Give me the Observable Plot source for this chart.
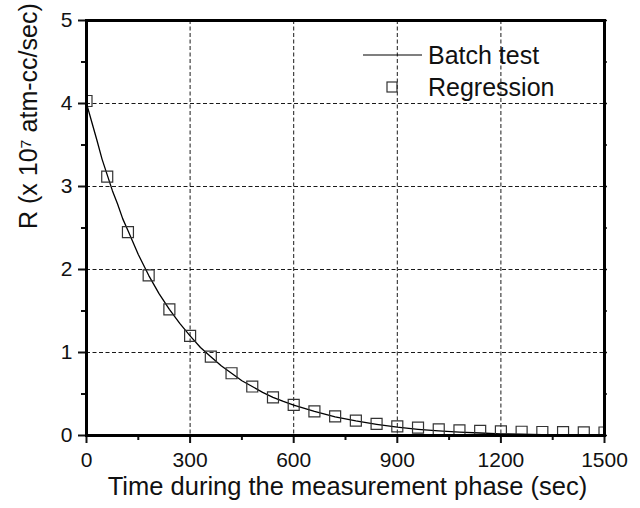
<!DOCTYPE html>
<html>
<head>
<meta charset="utf-8">
<script src="https://cdn.jsdelivr.net/npm/d3@7"></script>
<script src="https://cdn.jsdelivr.net/npm/@observablehq/plot@0.6"></script>
<style>
  html, body { margin: 0; padding: 0; background: #fff; }
  #chart svg { display: block; }
</style>
</head>
<body>
<div id="chart"></div>
<script>
// ---- data ----
const batchTime = [0, 15, 30, 45, 60, 75, 90, 105, 120, 150, 180, 210, 240, 270, 300, 330, 360, 390, 420, 450, 480, 510, 540, 570, 600, 660, 720, 780, 840, 900, 960, 1020, 1080, 1140, 1200, 1260, 1320, 1380, 1440, 1500];
const batchR    = [4.00, 3.78, 3.56, 3.33, 3.14, 2.95, 2.79, 2.61, 2.47, 2.18, 1.93, 1.71, 1.52, 1.35, 1.20, 1.06, 0.95, 0.84, 0.75, 0.66, 0.59, 0.52, 0.46, 0.41, 0.365, 0.29, 0.225, 0.175, 0.135, 0.10, 0.075, 0.055, 0.04, 0.03, 0.02, 0.015, 0.01, 0.008, 0.005, 0.004];

const regTime = [0, 60, 120, 180, 240, 300, 360, 420, 480, 540, 600, 660, 720, 780, 840, 900, 960, 1020, 1080, 1140, 1200, 1260, 1320, 1380, 1440, 1500];
const regR    = [4.03, 3.12, 2.45, 1.93, 1.52, 1.20, 0.95, 0.75, 0.59, 0.46, 0.37, 0.29, 0.23, 0.18, 0.14, 0.11, 0.095, 0.075, 0.062, 0.055, 0.05, 0.045, 0.042, 0.04, 0.038, 0.036];

const xTicks = [0, 300, 600, 900, 1200, 1500];
const xMinor = [150, 450, 750, 1050, 1350];
const yTicks = [0, 1, 2, 3, 4, 5];
const yMinor = [0.5, 1.5, 2.5, 3.5, 4.5];

const xTitle = "Time during the measurement phase (sec)";
const yTitle = "R (x 10\u2077 atm-cc/sec)";
const legendLabels = ["Batch test", "Regression"];

// ---- tables ----
const batch = batchTime.map((t, i) => ({t, r: batchR[i]}));
const regression = regTime.map((t, i) => ({t, r: regR[i]}));

const FONT = "'Liberation Sans', Arial, Helvetica, sans-serif";
const fmt = d => String(d);

// legend drawn inside the frame (top-right)
function legendMark(index, scales, values, dim) {
  const g = d3.create("svg:g").attr("font-family", FONT).attr("font-size", 25).attr("text-anchor", "start");
  const right = dim.width - dim.marginRight;
  const top = dim.marginTop;
  const tx = right - 176;
  g.append("line")
    .attr("x1", right - 241).attr("x2", right - 182)
    .attr("y1", top + 35).attr("y2", top + 35)
    .attr("stroke", "black").attr("stroke-width", 1.2);
  g.append("text").attr("x", tx).attr("y", top + 35).attr("dy", "0.35em")
    .attr("fill", "#111").text(legendLabels[0]);
  g.append("rect")
    .attr("x", right - 217).attr("y", top + 62)
    .attr("width", 10).attr("height", 10)
    .attr("fill", "none").attr("stroke", "#333").attr("stroke-width", 1.2);
  g.append("text").attr("x", tx).attr("y", top + 67).attr("dy", "0.35em")
    .attr("fill", "#111").text(legendLabels[1]);
  return g.node();
}

const chart = Plot.plot({
  width: 640,
  height: 508,
  marginLeft: 86,
  marginRight: 36,
  marginTop: 20,
  marginBottom: 73,
  style: {fontFamily: FONT, background: "white", color: "#111", overflow: "visible"},
  x: {domain: [0, 1500]},
  y: {domain: [0, 5]},
  marks: [
    Plot.gridX(xTicks.slice(1, -1), {stroke: "#000", strokeOpacity: 0.9, strokeWidth: 1, strokeDasharray: "4,2.5"}),
    Plot.gridY(yTicks.slice(1, -1), {stroke: "#000", strokeOpacity: 0.9, strokeWidth: 1, strokeDasharray: "4,2.5"}),
    Plot.line(batch, {x: "t", y: "r", stroke: "black", strokeWidth: 1.3, clip: true}),
    Plot.dot(regression, {x: "t", y: "r", symbol: "square", r: 6.2, stroke: "#333", strokeWidth: 1.2, fill: "none", clip: true}),
    // bottom axis
    Plot.axisX(xTicks, {anchor: "bottom", tickSize: 8, tickPadding: 9, fontSize: 21, strokeWidth: 2, tickFormat: fmt, label: null}),
    Plot.axisX(xMinor, {anchor: "bottom", tickSize: 5, tickFormat: () => "", strokeWidth: 2, label: null}),
    // top axis (ticks only)
    Plot.axisX([...xTicks, ...xMinor], {anchor: "top", tickSize: 2, tickFormat: () => "", strokeWidth: 1.5, label: null}),
    // left axis
    Plot.axisY(yTicks, {anchor: "left", tickSize: 8, tickPadding: 6, fontSize: 21, strokeWidth: 2, tickFormat: fmt, label: null}),
    Plot.axisY(yMinor, {anchor: "left", tickSize: 5, tickFormat: () => "", strokeWidth: 2, label: null}),
    // right axis (ticks only)
    Plot.axisY([...yTicks, ...yMinor], {anchor: "right", tickSize: 2, tickFormat: () => "", strokeWidth: 1.5, label: null}),
    Plot.frame({stroke: "black", strokeWidth: 3}),
    // axis titles
    Plot.text([xTitle], {text: d => d, frameAnchor: "bottom", dx: 2, dy: 59, fontSize: 25.5, fill: "#111"}),
    Plot.text([yTitle], {text: d => d, frameAnchor: "left", rotate: -90, dx: -58, dy: 1, fontSize: 25, fill: "#111"}),
    legendMark
  ]
});

document.getElementById("chart").append(chart);
</script>
</body>
</html>
